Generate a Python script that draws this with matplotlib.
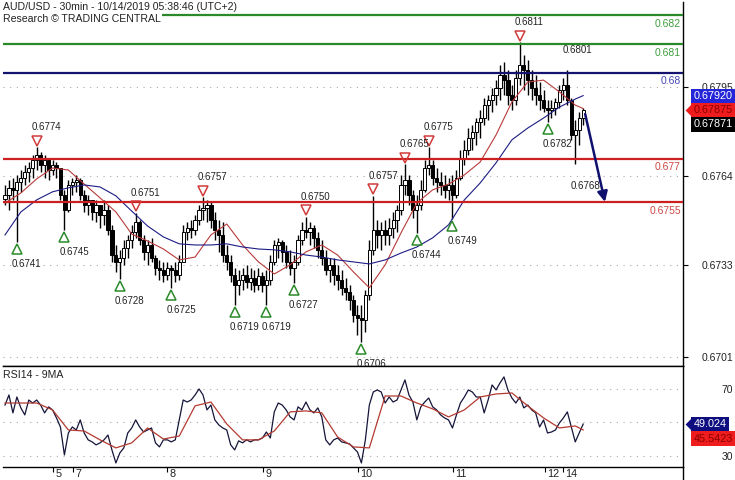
import numpy as np
import matplotlib
matplotlib.use("Agg")
import matplotlib.pyplot as plt
from matplotlib.transforms import blended_transform_factory, offset_copy
from matplotlib.lines import Line2D

plt.rcParams['font.family'] = ['Liberation Sans', 'DejaVu Sans']

# ---------------- data (prices in 1e-4 units, hourly candles) ----------------
first_open = 6756.0
highs = [
    6760.9, 6762.6, 6763.3, 6764.4, 6766.1, 6767.9, 6768.9, 6771.3, 6774.1, 6772.4,
    6771.3, 6770.3, 6769.6, 6768.9, 6766.8, 6759.2, 6762.6, 6763.3, 6764.4, 6763.3,
    6759.2, 6757.4, 6755.7, 6755.7, 6753.9, 6755.7, 6753.9, 6747.0, 6740.0, 6738.3,
    6741.8, 6743.5, 6747.0, 6751.2, 6748.7, 6743.5, 6741.8, 6742.5, 6736.5, 6734.8,
    6734.1, 6734.1, 6733.1, 6734.1, 6736.5, 6747.0, 6748.0, 6748.7, 6750.5, 6753.9,
    6756.7, 6755.7, 6755.0, 6751.5, 6748.7, 6748.0, 6740.0, 6736.5, 6732.0, 6731.3,
    6732.0, 6733.1, 6732.0, 6731.3, 6732.0, 6730.6, 6731.3, 6736.5, 6741.8, 6742.5,
    6741.8, 6740.0, 6738.3, 6736.5, 6743.5, 6748.0, 6749.8, 6748.0, 6747.0, 6744.5,
    6741.8, 6738.3, 6735.5, 6735.5, 6733.1, 6731.3, 6728.5, 6726.1, 6722.6, 6719.1,
    6719.1, 6724.4, 6741.8, 6757.1, 6748.7, 6748.0, 6748.7, 6749.4, 6751.5, 6753.9,
    6764.4, 6768.2, 6764.4, 6759.2, 6757.4, 6762.6, 6769.6, 6774.1, 6769.6, 6766.8,
    6765.4, 6764.4, 6763.3, 6764.4, 6766.1, 6773.1, 6776.6, 6780.7, 6781.8, 6784.2,
    6787.0, 6791.2, 6792.2, 6794.7, 6797.4, 6802.7, 6803.7, 6800.9, 6795.7, 6800.9,
    6810.7, 6806.1, 6804.4, 6800.9, 6799.2, 6796.7, 6794.0, 6790.5, 6790.5, 6791.2,
    6795.7, 6798.1, 6800.9, 6791.2, 6783.5, 6786.3, 6787.7,
]
lows = [
    6753.9, 6752.2, 6755.7, 6741.1, 6758.5, 6760.9, 6761.9, 6763.3, 6766.1, 6765.4,
    6763.3, 6762.6, 6764.4, 6763.3, 6755.7, 6745.2, 6751.5, 6757.4, 6758.5, 6755.7,
    6751.5, 6750.5, 6748.7, 6748.0, 6745.9, 6747.0, 6743.5, 6734.1, 6730.6, 6728.2,
    6733.1, 6735.5, 6739.0, 6742.5, 6740.0, 6734.8, 6733.1, 6734.1, 6729.6, 6727.8,
    6727.1, 6727.8, 6725.1, 6727.1, 6727.8, 6734.1, 6741.8, 6742.5, 6743.5, 6747.0,
    6748.7, 6748.0, 6745.9, 6741.8, 6737.6, 6734.1, 6731.3, 6727.1, 6719.1, 6722.6,
    6724.4, 6725.1, 6724.4, 6723.7, 6724.4, 6723.7, 6719.1, 6726.1, 6733.1, 6735.5,
    6734.1, 6732.0, 6729.6, 6726.8, 6733.1, 6740.0, 6742.5, 6740.0, 6739.0, 6735.5,
    6733.1, 6729.6, 6727.1, 6726.1, 6724.4, 6722.6, 6720.9, 6717.4, 6713.2, 6708.7,
    6706.3, 6709.7, 6720.9, 6736.5, 6739.0, 6738.3, 6740.0, 6740.0, 6742.5, 6744.5,
    6750.5, 6757.4, 6753.9, 6749.4, 6744.2, 6752.2, 6758.5, 6764.4, 6760.9, 6758.5,
    6757.4, 6756.4, 6755.7, 6749.1, 6756.4, 6762.6, 6767.9, 6771.3, 6773.1, 6774.8,
    6777.3, 6781.8, 6783.5, 6786.3, 6788.7, 6790.5, 6792.2, 6788.7, 6787.0, 6788.7,
    6795.7, 6794.0, 6792.2, 6790.5, 6788.7, 6787.0, 6786.3, 6782.8, 6784.2, 6785.3,
    6787.7, 6790.5, 6788.7, 6776.6, 6768.2, 6774.8, 6781.8,
]
closes = [
    6757.4, 6759.9, 6759.2, 6761.9, 6763.3, 6765.4, 6766.8, 6769.6, 6771.3, 6767.9,
    6769.6, 6766.1, 6767.9, 6766.8, 6757.4, 6752.2, 6760.9, 6761.9, 6762.6, 6757.4,
    6753.9, 6755.7, 6751.5, 6753.9, 6750.5, 6752.2, 6745.2, 6736.5, 6734.1, 6735.5,
    6739.0, 6741.8, 6744.5, 6748.0, 6741.8, 6737.6, 6740.0, 6735.5, 6732.0, 6731.3,
    6729.6, 6732.0, 6731.3, 6729.6, 6734.1, 6744.5, 6745.9, 6745.2, 6748.7, 6752.2,
    6752.9, 6753.9, 6748.7, 6745.2, 6743.5, 6736.5, 6734.1, 6729.6, 6726.1, 6727.8,
    6729.6, 6727.1, 6728.5, 6726.1, 6729.2, 6726.1, 6727.8, 6734.1, 6740.0, 6741.1,
    6737.6, 6734.1, 6732.0, 6734.1, 6741.8, 6745.2, 6744.5, 6745.9, 6742.5, 6738.3,
    6735.5, 6731.3, 6733.1, 6729.6, 6727.8, 6725.1, 6723.7, 6720.9, 6715.7, 6714.6,
    6713.9, 6722.6, 6738.3, 6745.2, 6743.5, 6745.2, 6743.5, 6745.9, 6748.7, 6752.2,
    6760.9, 6762.6, 6757.4, 6752.2, 6753.9, 6759.2, 6766.8, 6767.9, 6763.3, 6761.9,
    6760.9, 6759.2, 6760.9, 6757.4, 6763.3, 6770.3, 6773.1, 6777.3, 6779.3, 6782.8,
    6784.2, 6788.7, 6790.5, 6792.2, 6794.7, 6799.2, 6797.4, 6792.2, 6790.5, 6798.1,
    6802.7, 6800.9, 6797.4, 6794.7, 6792.2, 6790.5, 6787.7, 6787.0, 6787.7, 6789.8,
    6794.0, 6795.7, 6790.5, 6778.3, 6780.0, 6784.2, 6787.1,
]

ma_idx = list(range(0, 145, 4)) + [146]
ma_fast = [
    6754.6, 6758.1, 6763.0, 6766.8, 6766.1, 6761.2, 6756.4, 6751.5, 6743.8, 6741.4,
    6738.6, 6734.8, 6735.8, 6743.5, 6747.3, 6740.0, 6734.1, 6729.9, 6733.1, 6737.6,
    6740.0, 6736.5, 6730.6, 6725.1, 6733.1, 6744.2, 6754.6, 6759.2, 6761.2, 6764.4,
    6768.9, 6778.3, 6789.8, 6796.7, 6797.4, 6793.3, 6788.7, 6787.5,
]
ma_slow = [
    6743.5, 6751.5, 6755.7, 6758.5, 6759.9, 6760.9, 6760.2, 6757.1, 6751.8, 6746.6,
    6742.8, 6740.4, 6740.0, 6740.0, 6740.4, 6739.3, 6738.6, 6738.3, 6737.6, 6736.5,
    6735.8, 6734.8, 6734.1, 6733.4, 6734.8, 6737.2, 6739.3, 6742.5, 6747.0, 6755.7,
    6761.6, 6768.6, 6776.6, 6780.7, 6784.2, 6788.0, 6790.8, 6792.0,
]

rsi = [
    60.4, 66.4, 55.7, 65.2, 58.7, 54.5, 63.4, 61.6, 63.4, 60.4,
    55.7, 59.3, 57.5, 52.7, 47.3, 30.6, 43.7, 47.3, 45.5, 51.5,
    43.7, 39.6, 38.4, 36.6, 37.8, 39.6, 42.5, 33.6, 25.8, 31.8,
    34.8, 43.7, 46.7, 51.5, 47.3, 44.3, 45.5, 46.7, 37.8, 35.4,
    39.6, 39.6, 38.4, 39.6, 51.5, 63.4, 62.2, 63.4, 66.4, 70.0,
    66.4, 57.5, 60.4, 51.5, 48.5, 46.7, 45.5, 36.6, 33.6, 39.0,
    37.8, 39.6, 38.4, 39.6, 39.6, 40.7, 44.3, 40.7, 56.3, 61.6,
    60.4, 57.5, 53.3, 51.5, 59.3, 57.5, 62.2, 57.5, 55.7, 58.7,
    53.3, 39.6, 36.6, 39.6, 40.7, 38.4, 37.8, 37.2, 34.8, 32.4,
    25.8, 39.6, 60.4, 68.2, 69.4, 68.2, 61.6, 65.2, 62.2, 63.4,
    69.4, 75.4, 66.4, 62.2, 51.5, 59.3, 62.2, 64.6, 59.3, 57.5,
    54.5, 52.7, 51.5, 46.7, 54.5, 61.6, 65.2, 69.4, 68.2, 65.2,
    65.2, 55.7, 63.4, 72.4, 69.4, 73.6, 77.2, 69.4, 64.6, 61.6,
    65.2, 58.7, 60.4, 57.5, 55.7, 47.3, 51.5, 43.7, 44.3, 45.5,
    49.7, 52.7, 56.3, 47.3, 38.4, 43.7, 49.024,
]
rsi_ma = [
    61.6, 61.6, 61.6, 57.5, 45.5, 44.9, 39.6, 34.8, 37.8, 46.7,
    40.1, 41.9, 59.9, 62.2, 49.1, 39.6, 39.6, 44.9, 56.3, 56.9,
    55.7, 41.3, 35.4, 34.8, 65.8, 65.8, 61.6, 58.1, 53.3, 57.5,
    65.2, 67.0, 67.6, 59.9, 52.7, 46.7, 47.9, 45.5423,
]

peak_idx = [8, 33, 50, 76, 93, 101, 107, 130]
peak_vals = [0.6774, 0.6751, 0.6757, 0.6750, 0.6757, 0.6765, 0.6775, 0.6811]
trough_idx = [3, 15, 29, 42, 58, 66, 73, 90, 104, 113, 137]
trough_vals = [0.6741, 0.6745, 0.6728, 0.6725, 0.6719, 0.6719, 0.6727, 0.6706,
               0.6744, 0.6749, 0.6782]
open_peak_idx, open_peak_vals = [142], [0.6801]
open_trough_idx, open_trough_vals = [144], [0.6768]

levels = [0.682, 0.681, 0.680, 0.677, 0.6755]
level_kinds = ['res', 'res', 'pivot', 'sup', 'sup']
target = 0.6755

price_ticks = [0.6795, 0.6764, 0.6733, 0.6701]
rsi_ticks = [30, 50, 70]
rsi_tick_labels = ['30', '', '70']
day_pos = [12.1, 17.2, 40.9, 65.2, 89.1, 113.1, 136.4, 140.9]
day_labels = ['5', '7', '8', '9', '10', '11', '12', '14']

title = "AUD/USD - 30min - 10/14/2019 05:38:46 (UTC+2)"
subtitle = "Research \u00a9 TRADING CENTRAL"
rsi_title = "RSI14 - 9MA"

# ---------------- styles ----------------
level_line_col = {'res': '#2a8a2a', 'pivot': '#14146e', 'sup': '#cc1f1f'}
level_text_col = {'res': '#3f9f3f', 'pivot': '#4848b8', 'sup': '#d04848'}
TXT = '#222222'

W, H = 735, 480
fig = plt.figure(figsize=(W / 100, H / 100), dpi=100)
ax = fig.add_axes([3 / W, 1 - 366 / H, 680 / W, 364 / H])
axr = fig.add_axes([3 / W, 1 - 467 / H, 680 / W, 101 / H])

assert len(highs) == len(lows) == len(closes) == len(rsi)
assert len(ma_idx) == len(ma_fast) == len(ma_slow) == len(rsi_ma)

hi = np.array(highs) / 1e4
lo = np.array(lows) / 1e4
cl = np.array(closes) / 1e4
op = np.concatenate([[first_open / 1e4], cl[:-1]])
x = np.arange(len(cl))

# candles
ax.vlines(x, lo, hi, color='black', lw=1.0, zorder=2)
up = cl >= op
body_h = np.maximum(np.abs(cl - op), 0.00003)
ax.bar(x, body_h, bottom=np.minimum(op, cl), width=0.8,
       color=np.where(up, 'white', 'black'), edgecolor='black',
       linewidth=0.7, zorder=2.2)

# moving averages
ax.plot(ma_idx, np.array(ma_fast) / 1e4, color='#b83a3a', lw=0.8, zorder=3)
ax.plot(ma_idx, np.array(ma_slow) / 1e4, color='#1c1c86', lw=0.8, zorder=3)

xmin, xmax = -0.505, 171.21
ax.set_xlim(xmin, xmax)
ax.set_ylim(0.669787, 0.682459)

blend = blended_transform_factory(ax.transAxes, ax.transData)

# levels
for v, k in zip(levels, level_kinds):
    ax.axhline(v, color=level_line_col[k], lw=1.6, zorder=4)
    ax.annotate(f"{v:g}", xy=(1, v), xycoords=blend, xytext=(-1.5, -6.2),
                textcoords='offset points', ha='right', va='center',
                fontsize=7.5, color=level_text_col[k], zorder=4)

# pivots
tr_up = offset_copy(ax.transData, fig=fig, x=0, y=4.6, units='points')
tr_dn = offset_copy(ax.transData, fig=fig, x=0, y=-5.2, units='points')
ax.plot(peak_idx, hi[peak_idx], ls='none', marker='v', ms=7, mfc='none',
        mec='#d23a3a', mew=1.1, transform=tr_up, zorder=5)
ax.plot(trough_idx, lo[trough_idx], ls='none', marker='^', ms=7, mfc='none',
        mec='#2a8a2a', mew=1.1, transform=tr_dn, zorder=5)
for i, v in zip(peak_idx + open_peak_idx, peak_vals + open_peak_vals):
    ax.annotate(f"{v:.4f}", xy=(i, hi[i]), xytext=(-3.6, 14.4),
                textcoords='offset points', ha='left', va='center',
                fontsize=7, color=TXT, zorder=5)
for i, v in zip(trough_idx + open_trough_idx, trough_vals + open_trough_vals):
    ax.annotate(f"{v:.4f}", xy=(i, lo[i]), xytext=(-3.6, -15.8),
                textcoords='offset points', ha='left', va='center',
                fontsize=7, color=TXT, zorder=5, annotation_clip=False)

# projection arrow
ax.annotate('', xy=(x[-1] + 5.5, target), xytext=(x[-1] + 0.5, cl[-1] - 0.00015),
            arrowprops=dict(arrowstyle='-|>', color='#10106e', lw=1.8,
                            mutation_scale=15, shrinkA=0, shrinkB=0), zorder=6)

# axes styling (price)
for s in ['left', 'top']:
    ax.spines[s].set_visible(False)
for s in ['right', 'bottom']:
    ax.spines[s].set_color('black')
    ax.spines[s].set_linewidth(1.0)
ax.yaxis.tick_right()
ax.set_yticks(price_ticks)
ax.set_yticklabels([f"{t:.4f}" for t in price_ticks])
ax.tick_params(axis='y', direction='out', length=3.5, width=0.8, pad=32.5,
               labelsize=7.5, labelcolor=TXT)
for lab in ax.get_yticklabels():
    lab.set_ha('right')
ax.tick_params(axis='x', bottom=False, labelbottom=False)
ax.yaxis.grid(True, ls=(0, (1, 5)), color='#a8a8a8', lw=0.8)
ax.set_axisbelow(True)

# right-hand value boxes
def value_box(axis, val, text, fc, tc, dy=0.0, tip=False, tipc=None):
    bl = blended_transform_factory(axis.transAxes, axis.transData)
    axis.annotate(text, xy=(1, val), xycoords=bl, xytext=(7.4, dy),
                  textcoords='offset points', ha='left', va='center',
                  fontsize=7.8, color=tc, zorder=10, annotation_clip=False,
                  bbox=dict(boxstyle='square,pad=0.22', fc=fc, ec='none'))
    if tip:
        tt = offset_copy(bl, fig=fig, x=3.9, y=dy, units='points')
        axis.plot([1], [val], marker=[(-0.5, 0), (0.5, -1), (0.5, 1)], ms=8.4,
                  color=tipc, mec='none', transform=tt, clip_on=False, zorder=10)

value_box(ax, ma_slow[-1] / 1e4, f"{ma_slow[-1] / 1e4:.5f}", '#2424d8', 'white', dy=-0.5)
value_box(ax, ma_fast[-1] / 1e4, f"{ma_fast[-1] / 1e4:.5f}", '#ee1c1c', '#8a0000',
          dy=-1.0, tip=True, tipc='#ee1c1c')
value_box(ax, cl[-1], f"{cl[-1]:.5f}", 'black', 'white', dy=-10.5)

# ---------------- RSI panel ----------------
axr.plot(x, rsi, color='#15153a', lw=0.9, zorder=3)
axr.plot(ma_idx, rsi_ma, color='#b33a30', lw=0.9, zorder=3)
axr.set_xlim(xmin, xmax)
axr.set_ylim(23.4, 83.7)
axr.spines['left'].set_visible(False)
for s in ['right', 'bottom', 'top']:
    axr.spines[s].set_color('black')
    axr.spines[s].set_linewidth(1.0)
axr.yaxis.tick_right()
axr.set_yticks(rsi_ticks)
axr.set_yticklabels(rsi_tick_labels)
axr.tick_params(axis='y', direction='out', length=0, pad=36,
                labelsize=7.5, labelcolor=TXT)
for lab in axr.get_yticklabels():
    lab.set_ha('right')
axr.yaxis.grid(True, ls=(0, (1, 5)), color='#a8a8a8', lw=0.8)
axr.set_axisbelow(True)
axr.set_xticks(day_pos)
axr.set_xticklabels([''] * len(day_pos))
axr.tick_params(axis='x', direction='out', length=3.8, width=0.8)
bx = blended_transform_factory(axr.transData, axr.transAxes)
for p, l in zip(day_pos, day_labels):
    axr.annotate(l, xy=(p, 0), xycoords=bx, xytext=(1.6, -1.2),
                 textcoords='offset points', ha='left', va='top',
                 fontsize=7.8, color=TXT, annotation_clip=False)

value_box(axr, rsi[-1], f"{rsi[-1]:.3f}", '#0e0e80', 'white', dy=0.0,
          tip=True, tipc='#0e0e80')
value_box(axr, rsi_ma[-1], f"{rsi_ma[-1]:.4f}", '#ee1c1c', '#8a0000', dy=-6.3)

# right border continues to bottom of the image
fig.add_artist(Line2D([683 / W, 683 / W], [0, 13 / H], color='black', lw=1.0))

# titles
fig.text(3 / W, 1 - 7.5 / H, title, fontsize=7.6, color=TXT, va='center', ha='left')
fig.text(3 / W, 1 - 19.5 / H, subtitle, fontsize=7.6, color=TXT, va='center', ha='left',
         bbox=dict(boxstyle='square,pad=0.1', fc='white', ec='none'))
fig.text(3 / W, 1 - 375.5 / H, rsi_title, fontsize=7.6, color=TXT, va='center', ha='left')

fig.savefig('out.png', dpi=100, facecolor='white')
